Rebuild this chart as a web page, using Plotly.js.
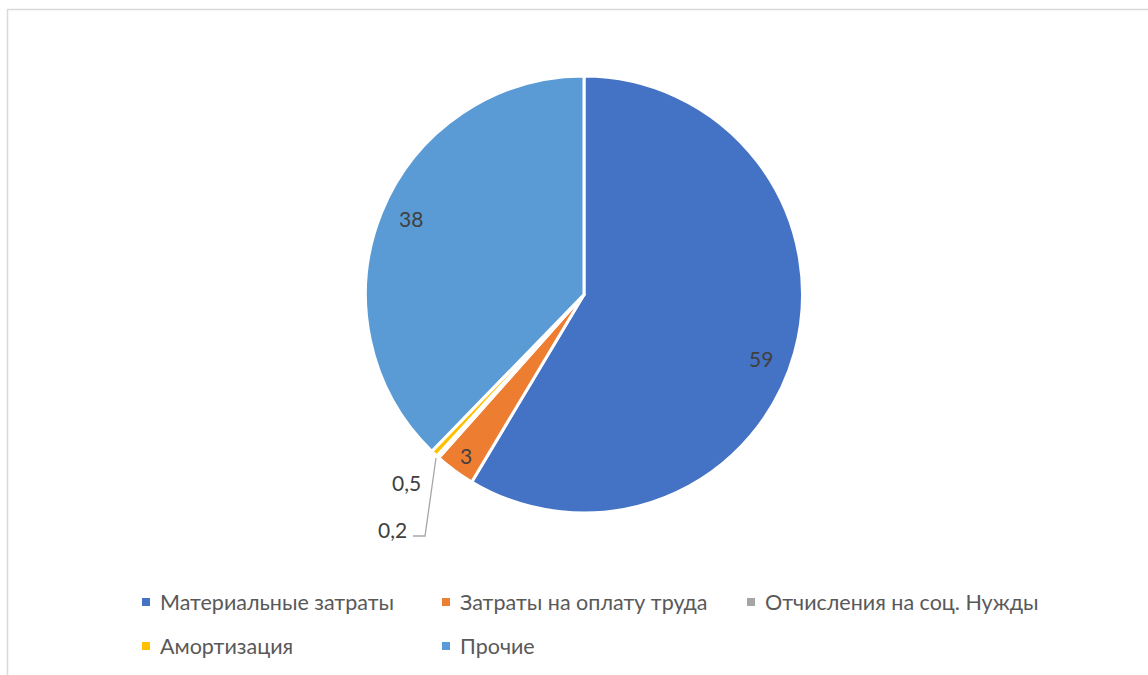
<!DOCTYPE html>
<html>
<head>
<meta charset="utf-8">
<script src="https://cdn.plot.ly/plotly-3.0.1.min.js"></script>
<style>html,body{margin:0;padding:0;background:#fff;}#chart{width:1148px;height:675px;}</style>
</head>
<body>
<div id="chart"></div>
<script>
const categories = ["Материальные затраты", "Затраты на оплату труда", "Отчисления на соц. Нужды", "Амортизация", "Прочие"];
const values = [59, 3, 0.2, 0.5, 38];
const colors = ["#4472C4", "#ED7D31", "#A5A5A5", "#FFC000", "#5B9BD5"];

const W = 1148, H = 675;
const px = x => x / W;
const py = y => (H - y) / H;
const fmt = v => String(v).replace('.', ',');
const FONT = "Lato, Carlito, 'Liberation Sans', sans-serif";

// pie geometry (pixels)
const cx = 584, cy = 294.5, R = 218.5;

// data-label positions (pixels), one per category
const labelPos = [[761, 358], [466, 455], [392, 529], [406, 483], [411, 218]];

const annotations = categories.map((c, i) => ({
  xref: 'paper', yref: 'paper', x: px(labelPos[i][0]), y: py(labelPos[i][1]),
  text: fmt(values[i]), showarrow: false, xanchor: 'center', yanchor: 'middle',
  font: {family: FONT, size: 21, color: '#404040'}
}));

// legend (custom, two rows)
const legendCols = [142, 442, 747];
const legendRows = [602, 646];
const shapes = [];
categories.forEach((c, i) => {
  const col = i % 3, row = Math.floor(i / 3);
  const x = legendCols[col], y = legendRows[row];
  shapes.push({type: 'rect', xref: 'paper', yref: 'paper',
    x0: px(x), x1: px(x + 8), y0: py(y + 4), y1: py(y - 4),
    fillcolor: colors[i], line: {width: 0}});
  annotations.push({xref: 'paper', yref: 'paper', x: px(x + 16), y: py(y),
    text: c, showarrow: false, xanchor: 'left', yanchor: 'middle',
    font: {family: FONT, size: 21.5, color: '#595959'}});
});

// leader line for the smallest slice
shapes.push({type: 'path', xref: 'paper', yref: 'paper',
  path: `M ${px(436)} ${py(458)} L ${px(425)} ${py(536)} L ${px(413)} ${py(536)}`,
  line: {color: '#A6A6A6', width: 1.3}});

// chart area border
shapes.push({type: 'rect', xref: 'paper', yref: 'paper',
  x0: px(7.5), x1: px(1160), y0: py(690), y1: py(9.5),
  line: {color: '#D9D9D9', width: 1.5}, fillcolor: 'rgba(0,0,0,0)'});

const trace = {
  type: 'pie',
  labels: categories,
  values: values,
  sort: false,
  direction: 'clockwise',
  rotation: 0,
  textinfo: 'none',
  hoverinfo: 'label+value',
  marker: {colors: colors, line: {color: '#FFFFFF', width: 3}},
  domain: {x: [px(cx - R), px(cx + R)], y: [py(cy + R), py(cy - R)]},
  showlegend: false
};

const layout = {
  width: W, height: H,
  margin: {l: 0, r: 0, t: 0, b: 0},
  paper_bgcolor: '#FFFFFF',
  showlegend: false,
  annotations: annotations,
  shapes: shapes,
  font: {family: FONT}
};

Plotly.newPlot('chart', [trace], layout, {displayModeBar: false, staticPlot: true});
</script>
</body>
</html>
